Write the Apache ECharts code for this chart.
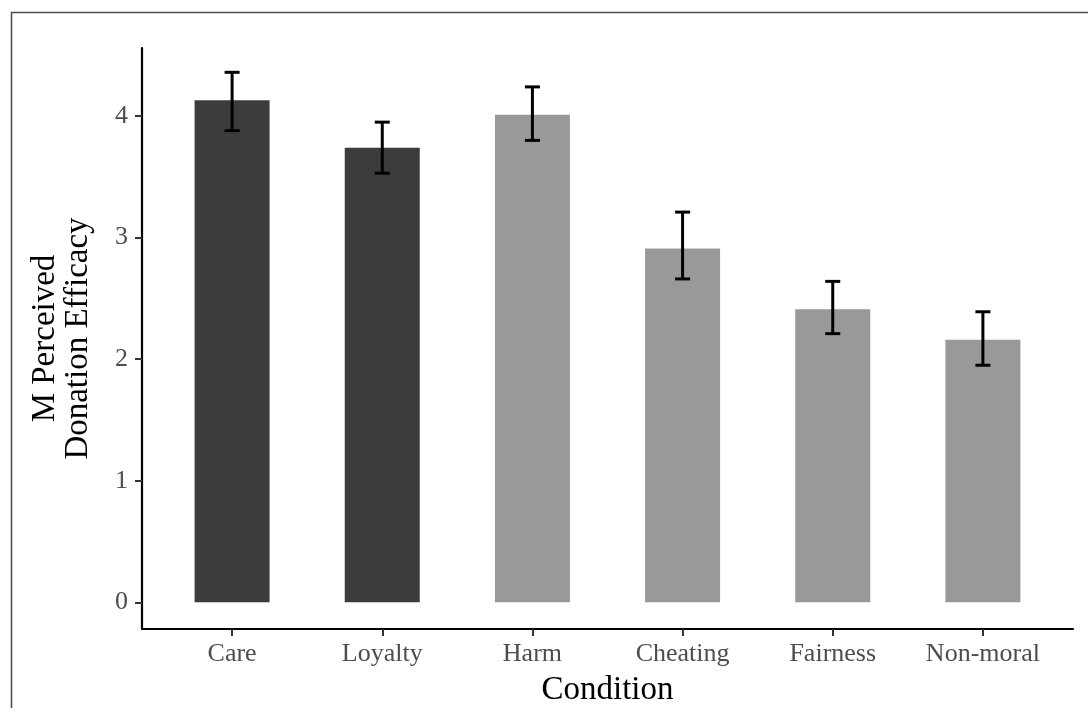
<!DOCTYPE html>
<html>
<head>
<meta charset="utf-8">
<title>Perceived donation efficacy by condition</title>
<script src="https://cdn.jsdelivr.net/npm/echarts@6/dist/echarts.min.js"></script>
<style>
  html, body { margin: 0; padding: 0; background: #ffffff; }
  #chart { width: 1088px; height: 708px; }
</style>
</head>
<body>
<div id="chart"></div>
<script>
// Conditions shown along the x axis
const categories = ['Care', 'Loyalty', 'Harm', 'Cheating', 'Fairness', 'Non-moral'];
// Mean perceived donation efficacy per condition
const means = [4.13, 3.74, 4.01, 2.91, 2.41, 2.16];
// Error bar limits
const lower = [3.88, 3.53, 3.80, 2.66, 2.21, 1.95];
const upper = [4.36, 3.95, 4.24, 3.21, 2.64, 2.39];
// Which conditions are drawn in the dark shade
const highlighted = [true, true, false, false, false, false];
// Tick labels of the value axis
const yTicks = [0, 1, 2, 3, 4];

const DARK = '#3c3c3c';
const LIGHT = '#999999';
const FONT = '"Liberation Serif", "Times New Roman", serif';

const positions = categories.map((_, i) => i + 1);

const barData = means.map((m, i) => ({
  value: [positions[i], m],
  itemStyle: { color: highlighted[i] ? DARK : LIGHT }
}));
const errData = means.map((_, i) => [positions[i], lower[i], upper[i]]);

const chart = echarts.init(document.getElementById('chart'), null, { renderer: 'canvas' });

chart.setOption({
  backgroundColor: '#ffffff',
  animation: false,
  graphic: [{
    type: 'rect',
    shape: { x: 11.5, y: 12.5, width: 1100, height: 720 },
    style: { fill: 'none', stroke: '#505050', lineWidth: 1.6 },
    silent: true,
    z: 100
  }],
  grid: {
    left: 142, right: 15, top: 48, bottom: 79,
    containLabel: false,
    outerBoundsMode: 'none'
  },
  xAxis: {
    type: 'value',
    min: 0.4,
    max: 6.6,
    name: 'Condition',
    nameLocation: 'middle',
    nameGap: 45,
    nameTextStyle: { fontFamily: FONT, fontSize: 33, color: '#000000' },
    splitLine: { show: false },
    axisLine: { onZero: false, lineStyle: { color: '#000000', width: 2.2 } },
    axisTick: { customValues: positions, length: 7, lineStyle: { color: '#333333', width: 2 } },
    axisLabel: {
      customValues: positions,
      formatter: v => categories[Math.round(v) - 1] || '',
      margin: 12,
      fontFamily: FONT,
      fontSize: 26,
      color: '#4d4d4d'
    }
  },
  yAxis: {
    type: 'value',
    min: -0.22,
    max: 4.56,
    name: 'M Perceived\nDonation Efficacy',
    nameLocation: 'middle',
    nameRotate: 90,
    nameGap: 47,
    nameTextStyle: { fontFamily: FONT, fontSize: 33, color: '#000000', lineHeight: 33 },
    splitLine: { show: false },
    axisLine: { onZero: false, lineStyle: { color: '#000000', width: 2.2 } },
    axisTick: { customValues: yTicks, length: 7, lineStyle: { color: '#333333', width: 2 } },
    axisLabel: {
      customValues: yTicks,
      margin: 14,
      fontFamily: FONT,
      fontSize: 26,
      color: '#4d4d4d'
    }
  },
  series: [
    {
      type: 'bar',
      data: barData,
      barWidth: 75,
      z: 2
    },
    {
      type: 'custom',
      data: errData,
      z: 5,
      renderItem: function (params, api) {
        const x = api.value(0);
        const lo = api.coord([x, api.value(1)]);
        const hi = api.coord([x, api.value(2)]);
        const half = 7.5;
        const style = { stroke: '#000000', lineWidth: 3, fill: 'none' };
        return {
          type: 'group',
          children: [
            { type: 'line', shape: { x1: lo[0], y1: lo[1], x2: hi[0], y2: hi[1] }, style: style },
            { type: 'line', shape: { x1: hi[0] - half, y1: hi[1], x2: hi[0] + half, y2: hi[1] }, style: style },
            { type: 'line', shape: { x1: lo[0] - half, y1: lo[1], x2: lo[0] + half, y2: lo[1] }, style: style }
          ]
        };
      }
    }
  ]
});
</script>
</body>
</html>
